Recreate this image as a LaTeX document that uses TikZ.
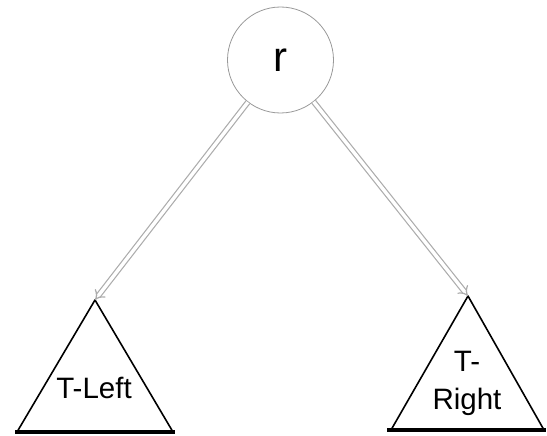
\documentclass[tikz,border=0pt]{standalone}
\usepackage{fontspec}
\setmainfont{Liberation Sans}
\usetikzlibrary{arrows.meta}
\begin{document}
\begin{tikzpicture}[x=1pt,y=-1pt,line join=round,
	treelink/.style={draw=gray!65,line width=1.2pt,double=white,double distance=3.4pt,-{Implies}},
	subtree/.style={line width=1.6pt},
	treebase/.style={line width=3.2pt}]
	\useasboundingbox (0,0) rectangle (547,436);
	\node[circle,draw=gray!80,line width=0.8pt,minimum size=106pt,inner sep=0pt,font=\fontsize{42}{42}\selectfont] (r) at (280.5,60) {r};
	% left subtree
	\coordinate (lapex) at (95,300);
	\coordinate (lleft) at (17,432);
	\coordinate (lright) at (173,432);
	\draw[subtree] (lleft)--(lapex)--(lright);
	\draw[treebase] (15,432)--(175,432);
	\node[font=\fontsize{29.5}{34}\selectfont] (tleft) at (94,388) {T-Left};
	% right subtree
	\coordinate (rapex) at (468,296);
	\coordinate (rleft) at (391,430);
	\coordinate (rright) at (544,430);
	\draw[subtree] (rleft)--(rapex)--(rright);
	\draw[treebase] (387,430)--(546,430);
	\node[font=\fontsize{29.5}{38}\selectfont,align=center] (tright) at (467,383) {T-\\Right};
	% links
	\draw[treelink] (r) -- (lapex);
	\draw[treelink] (r) -- (rapex);
\end{tikzpicture}
\end{document}
